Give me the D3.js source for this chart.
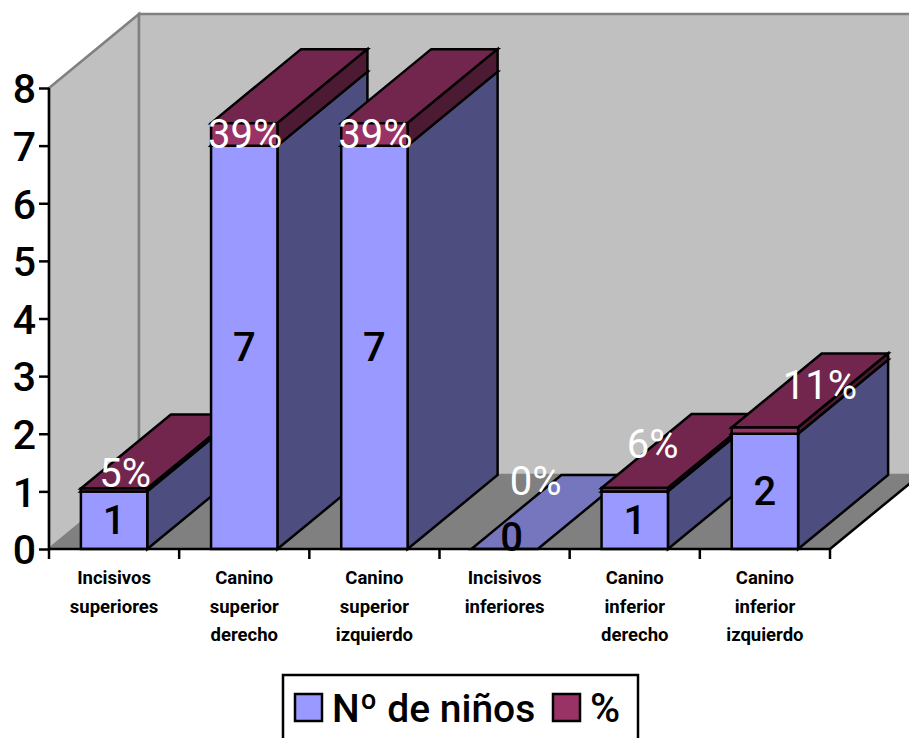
<!DOCTYPE html>
<html><head><meta charset="utf-8">
<script src="https://cdn.jsdelivr.net/npm/d3@7"></script>
<style>html,body{margin:0;padding:0;background:#fff;overflow:hidden}svg{display:block}text{font-family:Roboto,sans-serif}</style>
</head><body><svg id="c" width="909" height="738"></svg>
<script>
const categories = [["Incisivos","superiores"],["Canino","superior","derecho"],["Canino","superior","izquierdo"],["Incisivos","inferiores"],["Canino","inferior","derecho"],["Canino","inferior","izquierdo"]];
const ninos = [1,7,7,0,1,2];
const porcentaje = [0.05,0.39,0.39,0,0.06,0.11];
const yTicks = [0,1,2,3,4,5,6,7,8];
const pctNudgeX = [11,1,1,31,18,55];
const pctNudgeY = [-4,2,2,-54,-33,-35];

const svg = d3.select("#c");
const y = d3.scaleLinear().domain([0,8]).range([549,88]);
const x = d3.scaleBand().domain(d3.range(6)).range([49,830]).paddingInner(0.49).paddingOuter(0.245);
const DX=90, DY=-74, SW=2.5;
const poly=(pts,fill,stroke,sw)=>svg.append("polygon").attr("points",pts.map(p=>p.join(",")).join(" ")).attr("fill",fill).attr("stroke",stroke||"none").attr("stroke-width",sw||0).attr("stroke-linejoin","miter");

// walls and floor
poly([[49,y(8)],[49+DX,y(8)+DY],[49+DX,y(0)+DY],[49,y(0)]],"#c0c0c0","#808080",2.5);
poly([[49+DX,y(8)+DY],[830+DX,y(8)+DY],[830+DX,y(0)+DY],[49+DX,y(0)+DY]],"#c0c0c0","#808080",2.5);
poly([[49,y(0)],[49+DX,y(0)+DY],[830+DX,y(0)+DY],[830,y(0)]],"#808080");
svg.append("line").attr("x1",830).attr("y1",y(0)).attr("x2",830+DX).attr("y2",y(0)+DY).attr("stroke","#000").attr("stroke-width",SW);

function box(x0,w,yb,yt,front,side,top){
  const x1=x0+w;
  poly([[x0,yt],[x0+DX,yt+DY],[x1+DX,yt+DY],[x1,yt]],top,"#000",SW);
  poly([[x1,yb],[x1+DX,yb+DY],[x1+DX,yt+DY],[x1,yt]],side,"#000",SW);
  poly([[x0,yb],[x1,yb],[x1,yt],[x0,yt]],front,"#000",SW);
}
// bars, drawn left to right
ninos.forEach((v,i)=>{
  const x0=x(i), w=x.bandwidth();
  if(v===0 && porcentaje[i]===0){
    poly([[x0,y(0)],[x0+DX,y(0)+DY],[x0+w+DX,y(0)+DY],[x0+w,y(0)]],"#7676bf","#000",SW);
    return;
  }
  box(x0,w,y(0),y(v),"#9999ff","#4d4d80","#7373bf");
  box(x0,w,y(v),y(v+porcentaje[i]),"#993366","#4d1a33","#73264d");
});

// axes
const ax=svg.append("g").attr("transform","translate(49,0)").call(d3.axisLeft(y).tickValues(yTicks).tickFormat(d3.format("d")).tickSize(10).tickPadding(3));
ax.selectAll("path,line").attr("stroke","#000").attr("stroke-width",SW);
ax.select("path").attr("d",`M0,${y(8)}V${y(0)}`);
ax.selectAll("text").attr("font-size",41).attr("font-weight",500).attr("fill","#000").attr("dy","0.36em");

const xAxisY=y(0);
const edges=d3.range(7).map(i=>49+i*(781/6));
svg.append("line").attr("x1",49).attr("x2",830).attr("y1",xAxisY).attr("y2",xAxisY).attr("stroke","#000").attr("stroke-width",SW);
svg.selectAll(".xt").data(edges).join("line").attr("x1",d=>d).attr("x2",d=>d).attr("y1",xAxisY).attr("y2",xAxisY+10).attr("stroke","#000").attr("stroke-width",SW);

categories.forEach((c,i)=>{
  const t=svg.append("text").attr("text-anchor","middle").attr("font-size",18.5).attr("font-weight",700).attr("fill","#000");
  c.forEach((s,k)=>t.append("tspan").attr("x",x(i)+x.bandwidth()/2).attr("y",584+k*28.5).text(s));
});

// data labels
ninos.forEach((v,i)=>{
  const cx=x(i)+x.bandwidth()/2;
  svg.append("text").attr("x",cx+(v===0?7:0)).attr("y",v===0?y(0)+2:(y(0)+y(v))/2+14).attr("text-anchor","middle").attr("font-size",40).attr("font-weight",500).attr("fill","#000").text(v);
  svg.append("text").attr("x",cx+pctNudgeX[i]).attr("y",y(v)+pctNudgeY[i]).attr("text-anchor","middle").attr("font-size",40).attr("font-weight",400).attr("fill","#fff").text(d3.format(".0%")(porcentaje[i]));
});

// legend
svg.append("rect").attr("x",283).attr("y",675).attr("width",355).attr("height",80).attr("fill","#fff").attr("stroke","#000").attr("stroke-width",SW);
const swatch=(sx,col)=>svg.append("rect").attr("x",sx).attr("y",694).attr("width",27).attr("height",27).attr("fill",col).attr("stroke","#000").attr("stroke-width",SW);
swatch(295,"#9999ff"); swatch(553,"#993366");
svg.append("text").attr("x",332).attr("y",722).attr("font-size",39).attr("font-weight",500).attr("fill","#000").text("Nº de niños");
svg.append("text").attr("x",590).attr("y",722).attr("font-size",41).attr("font-weight",500).attr("fill","#000").text("%");
</script></body></html>
